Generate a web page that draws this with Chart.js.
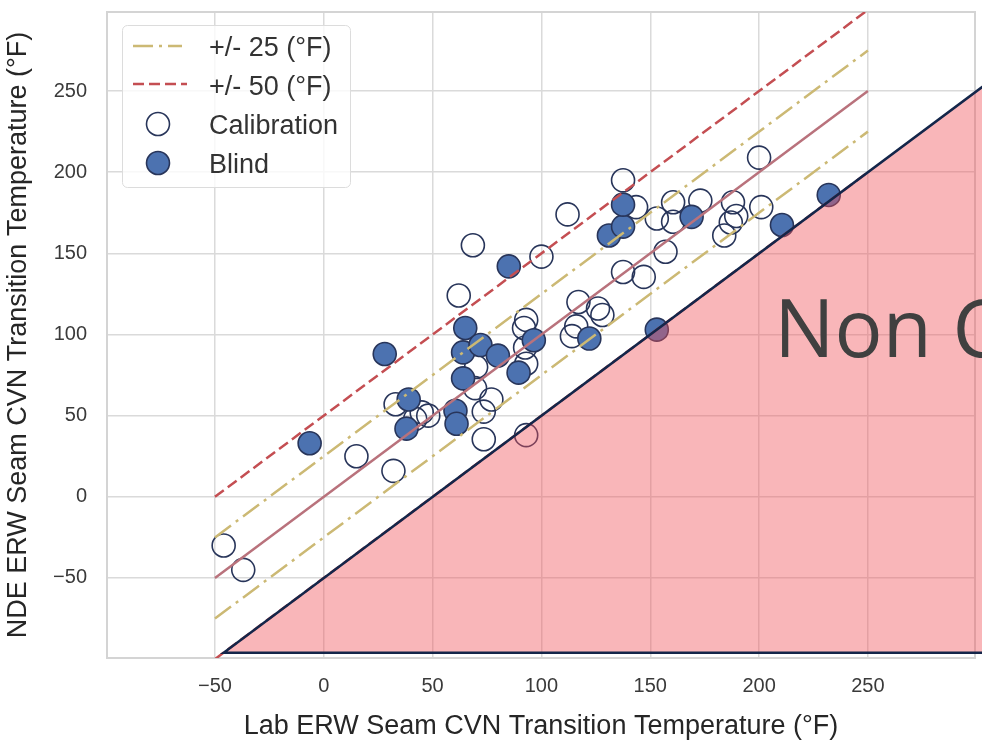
<!DOCTYPE html>
<html>
<head>
<meta charset="utf-8">
<script src="https://cdn.jsdelivr.net/npm/chart.js@4.4.1/dist/chart.umd.min.js"></script>
<style>
  html, body { margin: 0; padding: 0; background: #fff; }
  #wrap { width: 982px; height: 750px; }
</style>
</head>
<body>
<div id="wrap"><canvas id="cvn" width="982" height="750"></canvas></div>
<script>
// tick positions
var xTicks = [-50, 0, 50, 100, 150, 200, 250];
var yTicks = [-50, 0, 50, 100, 150, 200, 250];

// lab vs NDE transition temperature, [lab, nde]
var calibration = [
  [-46, -30], [-37, -45], [15, 25], [32, 16], [33, 57], [45, 52], [42, 48], [48, 50],
  [62, 124], [68.5, 155], [70, 80], [69.5, 67], [77, 60], [73.5, 52.5], [73.5, 35.5],
  [93, 38], [93, 109], [92, 104], [92.5, 92], [93, 82], [100, 148], [112, 174],
  [117, 120], [126, 116], [128, 112], [116, 105], [114, 99], [137.5, 195], [143.5, 178.5],
  [137.5, 138.5], [147, 135.5], [153, 171.5], [157, 151], [160.5, 181.5], [160.5, 169.5],
  [173, 182.5], [188, 181.5], [189.5, 173], [187, 169], [184, 161], [200, 209], [201, 178.5]
];
var blind = [
  [-6.5, 33], [28, 88], [39, 60], [38, 42], [60.5, 53], [61, 45], [65, 104], [64, 89],
  [72, 93.5], [80, 87], [64, 73], [85, 142], [89.5, 76.5], [96.5, 96.5], [122, 97.5],
  [131, 161], [137.5, 166.5], [137.5, 180], [153, 103], [169, 172.5], [210.5, 167.5], [232, 186]
];

// reference lines, x ends and y ends
var refX = [-50, 250];
var oneToOne = [-50, 250];
var plus25 = [-25, 275];
var minus25 = [-75, 225];
var plus50 = [0, 300];
var minus50 = [-100, 200];

// non conservative zone outline
var zoneX = [-46, 305, 305];
var zoneY = [-96, 255, -96];

var legendLabels = ['+/- 25 (\u00b0F)', '+/- 50 (\u00b0F)', 'Calibration', 'Blind'];

var navy = '#28355a';
var blue = '#4c72b0';
var red = '#c44e52';
var olive = '#ccb974';
var mauve = '#b9727c';

function toPts(arr) {
  return arr.map(function(p) { return { x: p[0], y: p[1] }; });
}
function linePts(xs, ys) {
  return xs.map(function(v, i) { return { x: v, y: ys[i] }; });
}
function minus(v) {
  return String(v).replace('-', '\u2212');
}
// keep the plot box fixed, no extra room for edge labels
function noPad(s) {
  s.paddingTop = 0; s.paddingBottom = 0; s.paddingLeft = 0; s.paddingRight = 0;
}

Chart.defaults.font.family = '"Liberation Sans", Arial, sans-serif';

var framePlugin = {
  id: 'frame',
  beforeDatasetsDraw: function(chart) {
    var a = chart.chartArea, ctx = chart.ctx;
    ctx.save();
    ctx.strokeStyle = '#d4d4d4';
    ctx.lineWidth = 2;
    ctx.strokeRect(a.left, a.top, a.right - a.left, a.bottom - a.top);
    ctx.restore();
  }
};

var zonePlugin = {
  id: 'zone',
  afterDatasetsDraw: function(chart) {
    var ctx = chart.ctx, xs = chart.scales.x, ys = chart.scales.y;
    var px = zoneX.map(function(v) { return xs.getPixelForValue(v); });
    var py = zoneY.map(function(v) { return ys.getPixelForValue(v); });
    ctx.save();
    ctx.beginPath();
    ctx.moveTo(px[0], py[0]);
    ctx.lineTo(px[1], py[1]);
    ctx.lineTo(px[2], py[2]);
    ctx.closePath();
    ctx.fillStyle = 'rgba(240,80,88,0.42)';
    ctx.fill();
    ctx.beginPath();
    ctx.moveTo(px[1], py[1]);
    ctx.lineTo(px[0], py[0]);
    ctx.lineTo(px[2], py[2]);
    ctx.strokeStyle = '#14264a';
    ctx.lineWidth = 2.5;
    ctx.stroke();
    ctx.fillStyle = '#404040';
    ctx.font = '80px "Open Sans", sans-serif';
    ctx.textBaseline = 'alphabetic';
    ctx.fillText('Non Conservative', xs.getPixelForValue(207), ys.getPixelForValue(86));
    ctx.restore();
  }
};

var legendPlugin = {
  id: 'boxLegend',
  afterDraw: function(chart) {
    var ctx = chart.ctx;
    ctx.save();
    ctx.beginPath();
    ctx.roundRect(122.5, 25.5, 228, 162, 5);
    ctx.fillStyle = 'rgba(255,255,255,0.8)';
    ctx.fill();
    ctx.strokeStyle = '#dcdcdc';
    ctx.lineWidth = 1;
    ctx.stroke();

    var rows = [46, 85, 124, 163];
    // line samples
    ctx.lineWidth = 2.5;
    ctx.strokeStyle = olive;
    ctx.setLineDash([20, 6, 3, 6]);
    ctx.beginPath(); ctx.moveTo(133, rows[0]); ctx.lineTo(182, rows[0]); ctx.stroke();
    ctx.strokeStyle = red;
    ctx.setLineDash([11, 5]);
    ctx.beginPath(); ctx.moveTo(133, rows[1] - 1); ctx.lineTo(187, rows[1] - 1); ctx.stroke();
    ctx.setLineDash([]);
    // marker samples
    ctx.lineWidth = 1.6;
    ctx.strokeStyle = navy;
    ctx.beginPath(); ctx.arc(158, rows[2], 11.5, 0, Math.PI * 2); ctx.stroke();
    ctx.beginPath(); ctx.arc(158, rows[3], 11.5, 0, Math.PI * 2);
    ctx.fillStyle = blue; ctx.fill(); ctx.stroke();

    ctx.fillStyle = '#333';
    ctx.font = '27px "Liberation Sans", Arial, sans-serif';
    ctx.textBaseline = 'alphabetic';
    for (var i = 0; i < legendLabels.length; i++) {
      ctx.fillText(legendLabels[i], 209, rows[i] + 9.6);
    }
    ctx.restore();
  }
};

var lineDs = function(ys, color, dash, order) {
  return {
    type: 'line',
    data: linePts(refX, ys),
    borderColor: color,
    borderWidth: 2.5,
    borderDash: dash,
    pointRadius: 0,
    fill: false,
    order: order
  };
};

new Chart(document.getElementById('cvn'), {
  type: 'scatter',
  data: {
    datasets: [
      lineDs(oneToOne, mauve, [], 1),
      lineDs(plus25, olive, [20, 6, 3, 6], 1),
      lineDs(minus25, olive, [20, 6, 3, 6], 1),
      lineDs(plus50, red, [11, 5], 1),
      lineDs(minus50, red, [11, 5], 1),
      {
        label: 'Blind',
        data: toPts(blind),
        backgroundColor: blue,
        borderColor: navy,
        borderWidth: 1.6,
        pointRadius: 11.5,
        order: 4
      },
      {
        label: 'Calibration',
        data: toPts(calibration),
        backgroundColor: 'rgba(0,0,0,0)',
        borderColor: navy,
        borderWidth: 1.6,
        pointRadius: 11.5,
        order: 5
      }
    ]
  },
  options: {
    responsive: false,
    animation: false,
    devicePixelRatio: 1,
    layout: { autoPadding: false, padding: { top: 12, right: 7, left: 0, bottom: 0 } },
    plugins: {
      legend: { display: false },
      tooltip: { enabled: false }
    },
    scales: {
      x: {
        type: 'linear',
        min: -99.6,
        max: 299.2,
        afterBuildTicks: function(s) { s.ticks = xTicks.map(function(v) { return { value: v }; }); },
        afterFit: function(s) { s.height = 92; noPad(s); },
        grid: { color: '#dadada', lineWidth: 1.5, drawTicks: false },
        border: { display: false },
        ticks: {
          padding: 16,
          color: '#3a3a3a',
          font: { size: 20 },
          callback: function(v) { return minus(v); }
        },
        title: {
          display: true,
          text: 'Lab ERW Seam CVN Transition Temperature (\u00b0F)',
          color: '#262626',
          font: { size: 27 },
          padding: { top: 0, bottom: 7 }
        }
      },
      y: {
        type: 'linear',
        min: -99.3,
        max: 298.7,
        afterBuildTicks: function(s) { s.ticks = yTicks.map(function(v) { return { value: v }; }); },
        afterFit: function(s) { s.width = 107; noPad(s); },
        grid: { color: '#dadada', lineWidth: 1.5, drawTicks: false },
        border: { display: false },
        ticks: {
          padding: 20,
          color: '#3a3a3a',
          font: { size: 20 },
          callback: function(v) { return minus(v); }
        },
        title: {
          display: true,
          text: 'NDE ERW Seam CVN Transition Temperature (\u00b0F)',
          color: '#262626',
          font: { size: 27 },
          padding: { top: 2, bottom: 0 }
        }
      }
    }
  },
  plugins: [framePlugin, zonePlugin, legendPlugin]
});
</script>
</body>
</html>
